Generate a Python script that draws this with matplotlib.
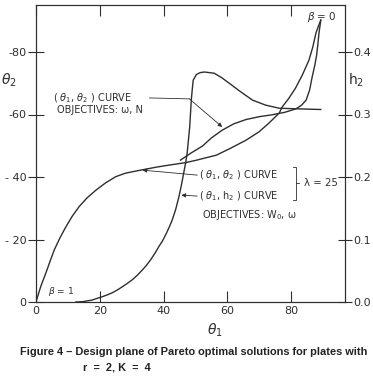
import matplotlib
matplotlib.use("Agg")
import matplotlib.pyplot as plt

# ---- data ----
# (theta1, theta2) curve, objectives W0, omega (lambda = 25)
theta1_a = [0, 0.5, 1.5, 3.1, 4.4, 5.7, 7.5, 9.4, 11.4, 13.5, 16.0, 18.8, 21.8, 25.0, 28.0,
            31.3, 34.4, 38.0, 41.7, 46.9, 50.0, 53.1, 56.6, 61.0, 65.9, 70.0, 73.1, 76.3,
            77.2, 79.3, 81.3, 83.5, 85.6, 86.8, 87.8, 88.6, 89.3]
theta2_a = [0, -1.7, -5.0, -9.3, -13.0, -16.6, -20.5, -24.1, -27.5, -30.5, -33.3, -35.8, -38.1,
            -40.1, -41.2, -41.9, -42.5, -43.2, -43.8, -44.6, -45.3, -46.1, -47.0, -49.2, -51.8,
            -54.5, -57.3, -60.5, -62.4, -65.2, -68.3, -72.6, -77.4, -81.6, -86.1, -88.4, -90.2]

# (theta1, theta2) curve, objectives omega, N
theta1_c = [45.3, 48.5, 52.2, 55.0, 58.4, 62.0, 65.9, 70.0, 74.0, 78.0, 81.5, 83.3, 84.7,
            85.8, 86.6, 87.4, 88.0, 88.4, 88.75, 89.3]
theta2_c = [-45.4, -47.6, -49.9, -52.5, -55.0, -57.0, -58.4, -59.3, -59.9, -60.7, -61.8, -63.0,
            -64.6, -67.8, -72.0, -75.6, -79.0, -82.6, -86.1, -90.2]

# (theta1, h2) curve, objectives W0, omega
theta1_b = [12.5, 14.6, 17.5, 20.8, 22.4, 24.0, 25.6, 27.1, 28.7, 30.3, 31.8, 33.3, 34.7, 36.0,
            37.3, 38.5, 39.7, 40.8, 41.8, 42.7, 43.8, 44.8, 45.6, 46.3, 46.9, 47.4, 48.2,
            48.7, 49.0, 49.3, 50.3, 51.5, 52.8, 55.9, 58.2, 60.6, 64.0, 67.9, 72.0, 76.3,
            82.5, 89.3]
h2_b = [0.0, 0.0005, 0.003, 0.0085, 0.0115, 0.015, 0.0195, 0.0245, 0.030, 0.036, 0.043, 0.051,
        0.059, 0.068, 0.078, 0.0885, 0.098, 0.109, 0.120, 0.131, 0.148, 0.168, 0.187, 0.206,
        0.222, 0.238, 0.28, 0.323, 0.340, 0.355, 0.364, 0.367, 0.368, 0.366, 0.359, 0.350,
        0.337, 0.323, 0.315, 0.310, 0.309, 0.308]

x_ticks = [0, 20, 40, 60, 80]
x_ticklabels = ['0', '20', '40', '60', '80']
y_ticks = [0, -20, -40, -60, -80]
y_ticklabels = ['0', '- 20', '- 40', '-60', '-80']
h_ticks = [0.0, 0.1, 0.2, 0.3, 0.4]
h_ticklabels = ['0.0', '0.1', '0.2', '0.3', '0.4']

INK = '#2e2e2e'
plt.rcParams['font.family'] = ['DejaVu Sans']
plt.rcParams['mathtext.fontset'] = 'dejavusans'

fig = plt.figure(figsize=(3.73, 3.82), dpi=100)
ax = fig.add_axes([36 / 373, 1 - 302 / 382, (345 - 36) / 373, (302 - 5) / 382])
ax2 = ax.twinx()

ax.set_xlim(0, 96.9)
ax.set_ylim(0, -95.04)
ax2.set_ylim(0, 0.4752)

lw = 1.0
ax.plot(theta1_a, theta2_a, color=INK, lw=lw)
ax.plot(theta1_c, theta2_c, color=INK, lw=lw)
ax2.plot(theta1_b, h2_b, color=INK, lw=lw)

for a in (ax, ax2):
    for s in a.spines.values():
        s.set_color(INK)
        s.set_linewidth(0.8)

ax.set_xticks(x_ticks)
ax.set_xticklabels(x_ticklabels)
ax.set_yticks(y_ticks)
ax.set_yticklabels(y_ticklabels)
ax2.set_yticks(h_ticks)
ax2.set_yticklabels(h_ticklabels)

ax.tick_params(axis='x', direction='in', length=8, width=0.8, color=INK, labelcolor=INK,
               labelsize=8, pad=3, top=True)
ax.tick_params(axis='y', direction='inout', length=12, width=0.8, color=INK, labelcolor=INK,
               labelsize=8, pad=1)
ax2.tick_params(axis='y', direction='inout', length=10, width=0.8, color=INK, labelcolor=INK,
                labelsize=8, pad=1)

# axis labels
fig.text(9 / 373, 1 - 80 / 382, r'$\theta_2$', fontsize=10, color=INK, ha='center', va='center')
fig.text(356 / 373, 1 - 80 / 382, r'$\mathrm{h}_2$', fontsize=10, color=INK, ha='center', va='center')
fig.text(215 / 373, 1 - 330 / 382, r'$\theta_1$', fontsize=10, color=INK, ha='center', va='center')

fs = 7.0
# upper label
ax.text(5.3, -65.3, r'( $\theta_1$, $\theta_2$ ) CURVE', fontsize=fs, color=INK, ha='left', va='center')
ax.text(6.6, -61.4, 'OBJECTIVES: ω, N', fontsize=fs, color=INK, ha='left', va='center')
ax.plot([35.6, 48.1], [-65.3, -65.0], color=INK, lw=0.6)
ax.annotate('', xy=(58.4, -56.0), xytext=(48.1, -65.0),
            arrowprops=dict(arrowstyle='-|>', color=INK, lw=0.6, mutation_scale=6,
                            shrinkA=0, shrinkB=0))

# lower labels
ax.text(51.2, -40.6, r'( $\theta_1$, $\theta_2$ ) CURVE', fontsize=fs, color=INK, ha='left', va='center')
ax.annotate('', xy=(33.4, -42.2), xytext=(50.6, -40.6),
            arrowprops=dict(arrowstyle='-|>', color=INK, lw=0.6, mutation_scale=6,
                            shrinkA=0, shrinkB=0))
ax.text(51.2, -33.9, r'( $\theta_1$, $\mathrm{h}_2$ ) CURVE', fontsize=fs, color=INK, ha='left', va='center')
ax.annotate('', xy=(45.6, -34.2), xytext=(50.6, -33.9),
            arrowprops=dict(arrowstyle='-|>', color=INK, lw=0.6, mutation_scale=6,
                            shrinkA=0, shrinkB=0))
ax.text(51.9, -27.8, r'OBJECTIVES: W$_0$, ω', fontsize=fs, color=INK, ha='left', va='center')

# bracket and lambda
ax.plot([80.6, 81.6, 81.6, 80.6], [-43.2, -43.2, -32.6, -32.6], color=INK, lw=0.6)
ax.plot([81.6, 82.5], [-38.1, -38.1], color=INK, lw=0.6)
ax.text(84.0, -38.1, 'λ = 25', fontsize=fs + 0.3, color=INK, ha='left', va='center')

# beta labels
ax.text(85.0, -91.2, r'$\beta$ = 0', fontsize=7.5, color=INK, ha='left', va='center')
ax.text(3.75, -3.3, r'$\beta$ = 1', fontsize=6.5, color=INK, ha='left', va='center')

# caption
fig.text(20 / 373, 1 - 352 / 382,
         'Figure 4 – Design plane of Pareto optimal solutions for plates with',
         fontsize=7.9, fontweight='bold', family=['Liberation Sans'], color='#222222',
         ha='left', va='center')
fig.text(83 / 373, 1 - 367 / 382, 'r  =  2, K  =  4',
         fontsize=7.9, fontweight='bold', family=['Liberation Sans'], color='#222222',
         ha='left', va='center')

fig.savefig('out.png', dpi=100, facecolor='white')
